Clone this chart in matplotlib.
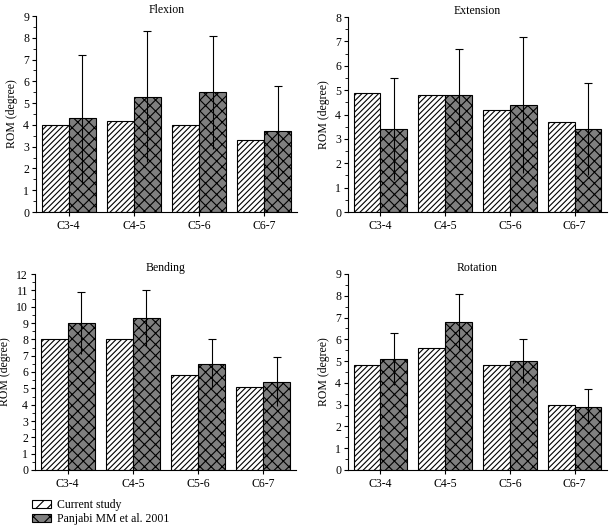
import matplotlib
matplotlib.use('Agg')
import matplotlib.pyplot as plt
import numpy as np
from matplotlib.ticker import MultipleLocator
from matplotlib.patches import Patch

plt.rcParams['font.family'] = ['Liberation Serif', 'DejaVu Serif']
plt.rcParams['hatch.linewidth'] = 0.8

levels = ['C3-4', 'C4-5', 'C5-6', 'C6-7']
series_names = ['Current study', 'Panjabi MM et al. 2001']

flexion_current = [4.0, 4.2, 4.0, 3.3]
flexion_panjabi = [4.3, 5.3, 5.5, 3.7]
flexion_err = [2.9, 3.0, 2.6, 2.1]

extension_current = [4.9, 4.8, 4.2, 3.7]
extension_panjabi = [3.4, 4.8, 4.4, 3.4]
extension_err = [2.1, 1.9, 2.8, 1.9]

bending_current = [8.0, 8.0, 5.8, 5.1]
bending_panjabi = [9.0, 9.3, 6.5, 5.4]
bending_err = [1.9, 1.7, 1.5, 1.5]

rotation_current = [4.8, 5.6, 4.8, 3.0]
rotation_panjabi = [5.1, 6.8, 5.0, 2.9]
rotation_err = [1.2, 1.3, 1.0, 0.8]

panels = [
    ('Flexion', flexion_current, flexion_panjabi, flexion_err, 9, (36, 16, 297, 212)),
    ('Extension', extension_current, extension_panjabi, extension_err, 8, (348, 17, 607, 212)),
    ('Bending', bending_current, bending_panjabi, bending_err, 12, (35, 274, 296, 470)),
    ('Rotation', rotation_current, rotation_panjabi, rotation_err, 9, (348, 274, 607, 470)),
]

W, H = 609, 527
fig = plt.figure(figsize=(W / 100, H / 100), dpi=100)

def ax_at(l, t, r, b):
    return fig.add_axes([l / W, 1 - b / H, (r - l) / W, (b - t) / H])

HATCH_CUR = '//////'
HATCH_PAN = 'xxx'
bw = 0.415
x = np.arange(len(levels))
for title, cur, pan, err, ymax, box in panels:
    ax = ax_at(*box)
    ax.bar(x - bw / 2, cur, width=bw, facecolor='white', edgecolor='black',
           hatch=HATCH_CUR, linewidth=0.8)
    ax.bar(x + bw / 2, pan, width=bw, facecolor='#7f7f7f', edgecolor='black',
           hatch=HATCH_PAN, linewidth=0.8)
    pan_a = np.array(pan)
    err_a = np.array(err)
    ax.errorbar(x + bw / 2, pan_a, yerr=err_a, fmt='none', ecolor='black',
                elinewidth=0.8, capsize=0)
    ax.plot(x + bw / 2, pan_a + err_a, linestyle='none', marker='_',
            markersize=6, markeredgewidth=0.8, color='black')
    ax.set_xlim(-0.5, 3.5)
    ax.set_ylim(0, ymax)
    ax.yaxis.set_major_locator(MultipleLocator(1))
    ax.yaxis.set_minor_locator(MultipleLocator(0.5))
    ax.set_xticks(x)
    ax.set_xticklabels(levels)
    for s in ['top', 'right']:
        ax.spines[s].set_visible(False)
    for s in ['left', 'bottom']:
        ax.spines[s].set_linewidth(0.8)
    ax.tick_params(axis='both', labelsize=8.5, width=0.8, length=3, direction='out', pad=2)
    ax.tick_params(axis='y', which='minor', length=2, width=0.6)
    ax.tick_params(axis='x', pad=3)
    ax.set_ylabel('ROM (degree)', fontsize=8.5, labelpad=4)
    ax.set_title(title, fontsize=8.5, pad=1)

handles = [Patch(facecolor='white', edgecolor='black', hatch='///', linewidth=0.8),
           Patch(facecolor='#7f7f7f', edgecolor='black', hatch='xx', linewidth=0.8)]
fig.legend(handles, series_names, loc='upper left', bbox_to_anchor=(26 / W, 1 - 493 / H),
           frameon=False, fontsize=8.5, handlelength=1.6, handleheight=0.7,
           labelspacing=0.2, handletextpad=0.5, borderpad=0)

fig.savefig('out.png', dpi=100)
